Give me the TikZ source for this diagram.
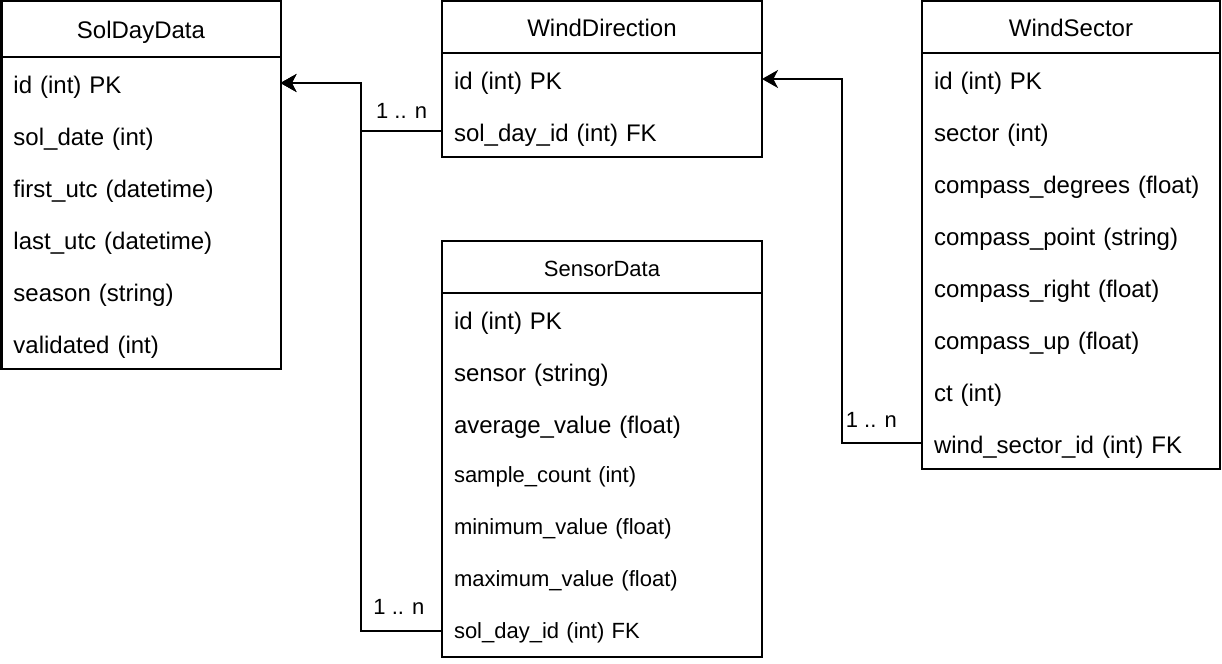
\documentclass[tikz,border=0pt]{standalone}
\usepackage{fontspec}
\setmainfont{Liberation Sans}
\usetikzlibrary{arrows.meta, positioning, fit, calc}

\begin{document}
\begin{tikzpicture}[
    x=0.75pt, y=-0.75pt,
    node distance=0pt,
    head/.style={draw, line width=1.5pt, inner sep=0pt, outer sep=0pt, minimum height=39pt, text height=13.5pt, text depth=0pt, font=\fontsize{18}{21.6}\selectfont},
    field/.style={inner xsep=9pt, inner ysep=0pt, outer sep=0pt, minimum height=39pt, align=left, text height=15.9pt, text depth=0pt, font=\fontsize{18}{21.6}\selectfont},
    small/.style={font=\fontsize{16.5}{19.8}\selectfont, text height=11.8pt},
    frame/.style={draw, line width=1.5pt, inner sep=0pt},
    fk/.style={-{Stealth[length=12pt, width=13.5pt, inset=3.5pt]}, line width=1.5pt},
    card/.style={above=#1, inner sep=0pt, font=\fontsize{16.5}{19.8}\selectfont},
    card/.default=11pt
]
\useasboundingbox (0,0) rectangle (1222,664);

% Table SolDayData
\node[head, minimum width=209.25pt, minimum height=42pt] (sdd) at (141,29) {SolDayData};
\node[field, text width=191.25pt, below=of sdd] (sdd1) {id (int) PK};
\node[field, text width=191.25pt, below=of sdd1] (sdd2) {sol\_date (int)};
\node[field, text width=191.25pt, below=of sdd2] (sdd3) {first\_utc (datetime)};
\node[field, text width=191.25pt, below=of sdd3] (sdd4) {last\_utc (datetime)};
\node[field, text width=191.25pt, below=of sdd4] (sdd5) {season (string)};
\node[field, text width=191.25pt, below=of sdd5] (sdd6) {validated (int)};
\node[frame, fit=(sdd)(sdd6)] (sddbox) {};

% Table WindDirection
\node[head, minimum width=240pt, text height=14.5pt] (wdr) at (602,27) {WindDirection};
\node[field, text width=222pt, below=of wdr] (wdr1) {id (int) PK};
\node[field, text width=222pt, below=of wdr1] (wdr2) {sol\_day\_id (int) FK};
\node[frame, fit=(wdr)(wdr2)] (wdrbox) {};

% Table WindSector
\node[head, minimum width=223.5pt, text height=14.5pt] (wsr) at (1071,27) {WindSector};
\node[field, text width=205.5pt, below=of wsr] (wsr1) {id (int) PK};
\node[field, text width=205.5pt, below=of wsr1] (wsr2) {sector (int)};
\node[field, text width=205.5pt, below=of wsr2] (wsr3) {compass\_degrees (float)};
\node[field, text width=205.5pt, below=of wsr3] (wsr4) {compass\_point (string)};
\node[field, text width=205.5pt, below=of wsr4] (wsr5) {compass\_right (float)};
\node[field, text width=205.5pt, below=of wsr5] (wsr6) {compass\_up (float)};
\node[field, text width=205.5pt, below=of wsr6] (wsr7) {ct (int)};
\node[field, text width=205.5pt, below=of wsr7] (wsr8) {wind\_sector\_id (int) FK};
\node[frame, fit=(wsr)(wsr8)] (wsrbox) {};

% Table SensorData
\node[head, small, minimum width=240pt, text height=15pt] (sen) at (602,266.5) {SensorData};
\node[field, text width=222pt, below=of sen] (sen1) {id (int) PK};
\node[field, text width=222pt, below=of sen1] (sen2) {sensor (string)};
\node[field, text width=222pt, below=of sen2] (sen3) {average\_value (float)};
\node[field, small, text width=222pt, below=of sen3] (sen4) {sample\_count (int)};
\node[field, small, text width=222pt, below=of sen4] (sen5) {minimum\_value (float)};
\node[field, small, text width=222pt, below=of sen5] (sen6) {maximum\_value (float)};
\node[field, small, text width=222pt, below=of sen6] (sen7) {sol\_day\_id (int) FK};
\node[frame, fit=(sen)(sen7)] (senbox) {};

% Relations
\coordinate (busL) at ($(sdd1.east)!0.5!(wdr2.west)$);
\coordinate (busR) at ($(wdr1.east)!0.5!(wsr8.west)$);

\draw[fk] (wdr2.west) -| node[card=9pt, pos=0.25] {1 .. n} (busL) |- (sdd1.east);
\draw[fk] (sen7.west) -| node[card, pos=0.25, xshift=-2pt] {1 .. n} (busL) |- (sdd1.east);
\draw[fk] (wsr8.west) -| node[card, pos=0.25, xshift=-8pt] {1 .. n} (busR) |- (wdr1.east);
\end{tikzpicture}
\end{document}
